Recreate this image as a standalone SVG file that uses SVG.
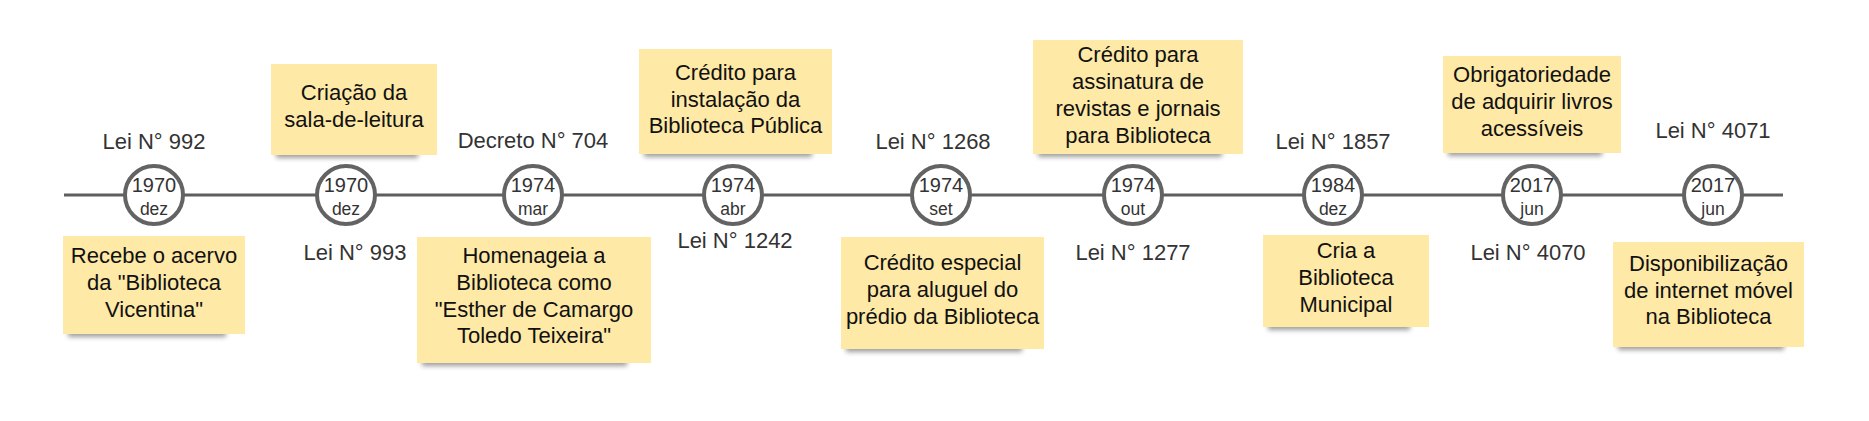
<svg xmlns="http://www.w3.org/2000/svg" width="1869" height="421" viewBox="0 0 1869 421">
<style>
.tl{stroke:#5e5e5e;stroke-width:3;fill:none}
.c{fill:#fff;stroke:#636363;stroke-width:4}
.y{font-family:"Liberation Sans",Arial,sans-serif;font-size:20px;fill:#333;text-anchor:middle}
.m{font-family:"Liberation Sans",Arial,sans-serif;font-size:17.5px;fill:#333;text-anchor:middle}
.lb{font-family:"Liberation Sans",Arial,sans-serif;font-size:22px;fill:#333;text-anchor:middle}
.nt{fill:#fee9a6}
.sh{fill:#000;opacity:.38;filter:url(#blur)}
.tx{font-family:"Liberation Sans",Arial,sans-serif;font-size:22px;fill:#111;text-anchor:middle}
</style>
<defs>
<filter id="blur" x="-20%" y="-100%" width="140%" height="300%"><feGaussianBlur stdDeviation="2.5"/></filter>
</defs>
<rect width="1869" height="421" fill="#fff"/>
<g id="connectors">
<line class="tl" x1="64" y1="195" x2="1783" y2="195"/>
</g>

<g id="ev1">
<g id="ev1-circle"><circle class="c" cx="154" cy="195" r="29"/><text class="y" x="154" y="192">1970</text><text class="m" x="154" y="215">dez</text></g>
<g id="ev1-label"><text class="lb" x="154" y="149">Lei N° 992</text></g>
<g id="ev1-note"><rect class="sh" x="68" y="327" width="158" height="10"/><rect class="nt" x="63" y="236" width="182" height="98"/>
<text class="tx" x="154" y="263">Recebe o acervo</text><text class="tx" x="154" y="290">da "Biblioteca</text><text class="tx" x="154" y="317">Vicentina"</text></g>
</g>

<g id="ev2">
<g id="ev2-circle"><circle class="c" cx="346" cy="195" r="29"/><text class="y" x="346" y="192">1970</text><text class="m" x="346" y="215">dez</text></g>
<g id="ev2-label"><text class="lb" x="355" y="260">Lei N° 993</text></g>
<g id="ev2-note"><rect class="sh" x="276" y="148" width="142" height="10"/><rect class="nt" x="271" y="64" width="166" height="91"/>
<text class="tx" x="354" y="100">Criação da</text><text class="tx" x="354" y="127">sala-de-leitura</text></g>
</g>

<g id="ev3">
<g id="ev3-circle"><circle class="c" cx="533" cy="195" r="29"/><text class="y" x="533" y="192">1974</text><text class="m" x="533" y="215">mar</text></g>
<g id="ev3-label"><text class="lb" x="533" y="148">Decreto N° 704</text></g>
<g id="ev3-note"><rect class="sh" x="422" y="356" width="205" height="10"/><rect class="nt" x="417" y="237" width="234" height="126"/>
<text class="tx" x="534" y="263">Homenageia a</text><text class="tx" x="534" y="290">Biblioteca como</text><text class="tx" x="534" y="317">"Esther de Camargo</text><text class="tx" x="534" y="343">Toledo Teixeira"</text></g>
</g>

<g id="ev4">
<g id="ev4-circle"><circle class="c" cx="733" cy="195" r="29"/><text class="y" x="733" y="192">1974</text><text class="m" x="733" y="215">abr</text></g>
<g id="ev4-label"><text class="lb" x="735" y="248">Lei N° 1242</text></g>
<g id="ev4-note"><rect class="sh" x="644" y="147" width="168" height="10"/><rect class="nt" x="639" y="49" width="193" height="105"/>
<text class="tx" x="735.5" y="80">Crédito para</text><text class="tx" x="735.5" y="107">instalação da</text><text class="tx" x="735.5" y="133">Biblioteca Pública</text></g>
</g>

<g id="ev5">
<g id="ev5-circle"><circle class="c" cx="941" cy="195" r="29"/><text class="y" x="941" y="192">1974</text><text class="m" x="941" y="215">set</text></g>
<g id="ev5-label"><text class="lb" x="933" y="149">Lei N° 1268</text></g>
<g id="ev5-note"><rect class="sh" x="846" y="342" width="176" height="10"/><rect class="nt" x="841" y="237" width="203" height="112"/>
<text class="tx" x="942.5" y="270">Crédito especial</text><text class="tx" x="942.5" y="297">para aluguel do</text><text class="tx" x="942.5" y="324">prédio da Biblioteca</text></g>
</g>

<g id="ev6">
<g id="ev6-circle"><circle class="c" cx="1133" cy="195" r="29"/><text class="y" x="1133" y="192">1974</text><text class="m" x="1133" y="215">out</text></g>
<g id="ev6-label"><text class="lb" x="1133" y="260">Lei N° 1277</text></g>
<g id="ev6-note"><rect class="sh" x="1038" y="147" width="184" height="10"/><rect class="nt" x="1033" y="40" width="210" height="114"/>
<text class="tx" x="1138" y="62">Crédito para</text><text class="tx" x="1138" y="89">assinatura de</text><text class="tx" x="1138" y="116">revistas e jornais</text><text class="tx" x="1138" y="143">para Biblioteca</text></g>
</g>

<g id="ev7">
<g id="ev7-circle"><circle class="c" cx="1333" cy="195" r="29"/><text class="y" x="1333" y="192">1984</text><text class="m" x="1333" y="215">dez</text></g>
<g id="ev7-label"><text class="lb" x="1333" y="149">Lei N° 1857</text></g>
<g id="ev7-note"><rect class="sh" x="1268" y="320" width="142" height="10"/><rect class="nt" x="1263" y="235" width="166" height="92"/>
<text class="tx" x="1346" y="258">Cria a</text><text class="tx" x="1346" y="285">Biblioteca</text><text class="tx" x="1346" y="312">Municipal</text></g>
</g>

<g id="ev8">
<g id="ev8-circle"><circle class="c" cx="1532" cy="195" r="29"/><text class="y" x="1532" y="192">2017</text><text class="m" x="1532" y="215">jun</text></g>
<g id="ev8-label"><text class="lb" x="1528" y="260">Lei N° 4070</text></g>
<g id="ev8-note"><rect class="sh" x="1448" y="146" width="154" height="10"/><rect class="nt" x="1443" y="56" width="178" height="97"/>
<text class="tx" x="1532" y="82">Obrigatoriedade</text><text class="tx" x="1532" y="109">de adquirir livros</text><text class="tx" x="1532" y="136">acessíveis</text></g>
</g>

<g id="ev9">
<g id="ev9-circle"><circle class="c" cx="1713" cy="195" r="29"/><text class="y" x="1713" y="192">2017</text><text class="m" x="1713" y="215">jun</text></g>
<g id="ev9-label"><text class="lb" x="1713" y="138">Lei N° 4071</text></g>
<g id="ev9-note"><rect class="sh" x="1618" y="340" width="166" height="10"/><rect class="nt" x="1613" y="242" width="191" height="105"/>
<text class="tx" x="1708.5" y="271">Disponibilização</text><text class="tx" x="1708.5" y="298">de internet móvel</text><text class="tx" x="1708.5" y="324">na Biblioteca</text></g>
</g>
</svg>
